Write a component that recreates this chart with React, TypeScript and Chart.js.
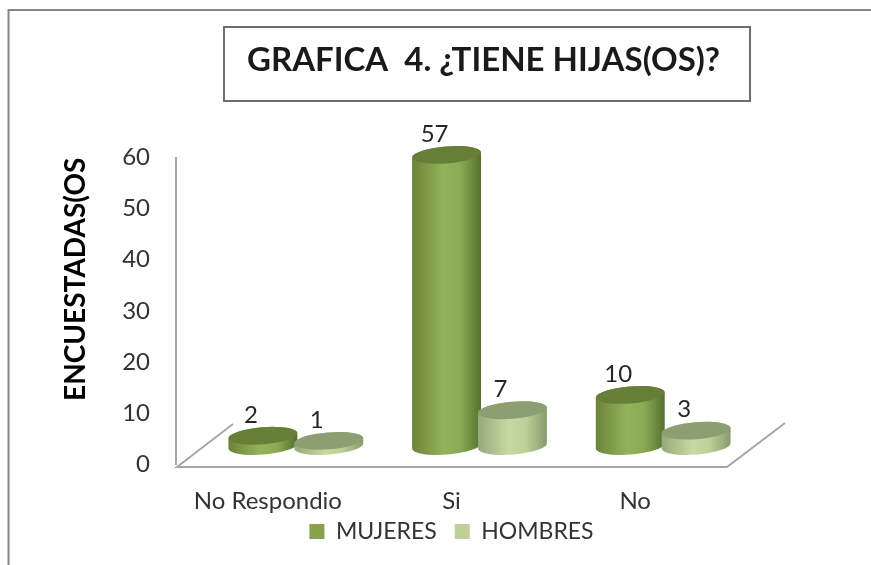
import React, { useEffect, useRef } from "react";
import { Chart, registerables } from "chart.js";

Chart.register(...registerables);

const categories = ["No Respondio", "Si", "No"];
const mujeres = [2, 57, 10];
const hombres = [1, 7, 3];
const yTicks = [0, 10, 20, 30, 40, 50, 60];
const chartTitle = "GRAFICA  4. ¿TIENE HIJAS(OS)?";
const yAxisTitle = "ENCUESTADAS(OS";

const FONT = "Lato, Carlito, Calibri, sans-serif";
const DEPTH_X = 28;
const DEPTH_Y = -18;
const ROT = -0.08;
const RY = 8.5;

const looks = [
  { swatch: "#87a34a", top: "#667f36", stops: ["#6a8438", "#94b25b", "#8cab54", "#556f2e"] },
  { swatch: "#bdd199", top: "#8c9f72", stops: ["#97a97b", "#c6daa2", "#bccf98", "#879a6c"] },
];

const cylinderPlugin = {
  id: "cylinders",
  beforeDatasetDraw(chart: any) {
    chart.ctx.save();
    chart.ctx.translate(DEPTH_X, DEPTH_Y);
  },
  afterDatasetDraw(chart: any) {
    chart.ctx.restore();
  },
  afterLayout(chart: any) {
    if (chart.titleBlock) {
      chart.titleBlock.left = 217;
      chart.titleBlock.right = 750;
    }
    if (chart.legend) {
      chart.legend.top = 502;
      chart.legend.bottom = 554;
    }
  },
  beforeDraw(chart: any) {
    const ctx = chart.ctx;
    const a = chart.chartArea;
    ctx.save();
    ctx.strokeStyle = "#868686";
    ctx.lineWidth = 2;
    ctx.beginPath();
    ctx.moveTo(8.5, 565);
    ctx.lineTo(8.5, 10);
    ctx.lineTo(871, 10);
    ctx.stroke();
    ctx.lineWidth = 2;
    ctx.strokeStyle = "#6e6e6e";
    ctx.fillStyle = "#ffffff";
    ctx.fillRect(224, 27, 526, 74);
    ctx.strokeRect(224, 27, 526, 74);
    const floor = a.bottom + 3;
    ctx.strokeStyle = "#a6a6a6";
    ctx.beginPath();
    ctx.moveTo(233, floor - 43);
    ctx.lineTo(a.left + 1, floor);
    ctx.lineTo(a.right, floor);
    ctx.lineTo(a.right + 58, floor - 44);
    ctx.stroke();
    ctx.restore();
  },
  afterDatasetsDraw(chart: any) {
    const ctx = chart.ctx;
    ctx.save();
    ctx.translate(DEPTH_X, DEPTH_Y);
    chart.data.datasets.forEach((ds: any, i: number) => {
      const look = looks[i];
      chart.getDatasetMeta(i).data.forEach((el: any) => {
        const rx = (el.width * 1.05) / 2;
        const g = ctx.createLinearGradient(el.x - rx, 0, el.x + rx, 0);
        g.addColorStop(0, look.stops[0]);
        g.addColorStop(0.45, look.stops[1]);
        g.addColorStop(0.7, look.stops[2]);
        g.addColorStop(1, look.stops[3]);
        ctx.beginPath();
        ctx.ellipse(el.x, el.base, rx, RY, ROT, 0, Math.PI);
        ctx.ellipse(el.x, el.y, rx, RY, ROT, Math.PI, Math.PI * 2);
        ctx.closePath();
        ctx.fillStyle = g;
        ctx.fill();
        ctx.beginPath();
        ctx.ellipse(el.x, el.y, rx, RY, ROT, 0, Math.PI * 2);
        ctx.fillStyle = look.top;
        ctx.fill();
      });
    });
    ctx.font = `24px ${FONT}`;
    ctx.fillStyle = "#262626";
    ctx.textAlign = "center";
    ctx.textBaseline = "middle";
    chart.data.datasets.forEach((ds: any, i: number) => {
      chart.getDatasetMeta(i).data.forEach((el: any, j: number) => {
        ctx.fillText(String(ds.data[j]), el.x - 12, el.y - 21);
      });
    });
    ctx.restore();
  },
};

export default function App() {
  const ref = useRef<HTMLCanvasElement>(null);
  useEffect(() => {
    const chart = new Chart(ref.current as any, {
      type: "bar",
      data: {
        labels: categories,
        datasets: [
          { label: "MUJERES", data: mujeres, backgroundColor: looks[0].swatch, clip: false, categoryPercentage: 0.717, barPercentage: 1 } as any,
          { label: "HOMBRES", data: hombres, backgroundColor: looks[1].swatch, clip: false, categoryPercentage: 0.717, barPercentage: 1 } as any,
        ],
      },
      options: {
        responsive: false,
        animation: false,
        layout: { padding: { left: 59, right: 144, top: 0, bottom: 0 } },
        plugins: {
          tooltip: { enabled: false },
          title: {
            display: true,
            text: chartTitle,
            align: "center",
            color: "#1a1a1a",
            font: { family: FONT, size: 33, weight: "bold" },
            padding: { top: 41, bottom: 77 },
          },
          legend: {
            position: "bottom",
            fullSize: false,
            labels: { boxWidth: 15, boxHeight: 15, color: "#333333", padding: 18, font: { family: FONT, size: 23 } },
          },
        },
        scales: {
          x: {
            afterFit(s: any) { s.height = 50; },
            grid: { display: false, drawTicks: false },
            border: { display: false },
            ticks: { color: "#333333", padding: 23, autoSkip: false, maxRotation: 0, font: { family: FONT, size: 24 } },
          },
          y: {
            min: 0,
            max: 60,
            afterBuildTicks(s: any) { s.ticks = yTicks.map((value) => ({ value })); },
            afterFit(s: any) { s.width = 117; },
            grid: { display: false, drawTicks: false },
            border: { display: true, color: "#a6a6a6", width: 2 },
            ticks: { color: "#333333", padding: 26, font: { family: FONT, size: 24 } },
            title: { display: true, text: yAxisTitle, align: "end", color: "#000000", font: { family: FONT, size: 28, weight: "bold" }, padding: { top: 0, bottom: 0 } },
          },
        },
      },
      plugins: [cylinderPlugin as any],
    });
    return () => chart.destroy();
  }, []);
  return (
    <div style={{ position: "absolute", left: 0, top: 0, width: 871, height: 565, background: "#ffffff" }}>
      <canvas ref={ref} width={871} height={565} style={{ display: "block" }} />
    </div>
  );
}
